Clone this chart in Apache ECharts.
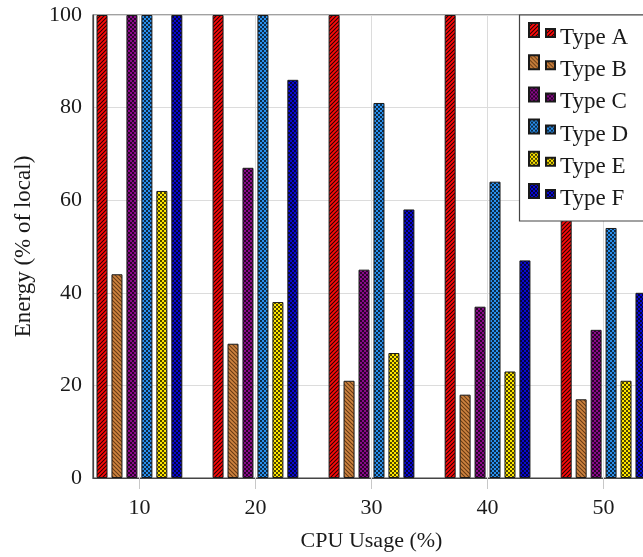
<!DOCTYPE html>
<html>
<head>
<meta charset="utf-8">
<title>Energy vs CPU usage</title>
<script src="https://cdn.jsdelivr.net/npm/echarts@6/dist/echarts.min.js"></script>
<style>
  html, body { margin: 0; padding: 0; overflow: hidden; background: #fff; }
  #chart { width: 720px; height: 557px; }
</style>
</head>
<body>
<div id="chart"></div>
<script>
// CPU usage levels (x positions of the bar groups)
const cpuUsage = [10, 20, 30, 40, 50];

// Energy as % of local execution, one array per type
const typeA = [100, 100, 100, 100, 100];
const typeB = [44, 29, 21, 18, 17];
const typeC = [100, 67, 45, 37, 32];
const typeD = [100, 100, 81, 64, 54];
const typeE = [62, 38, 27, 23, 21];
const typeF = [100, 86, 58, 47, 40];

const seriesNames = ['Type A', 'Type B', 'Type C', 'Type D', 'Type E', 'Type F'];
const seriesValues = [typeA, typeB, typeC, typeD, typeE, typeF];

const yTicks = [0, 20, 40, 60, 80, 100];

const FONT = '"Liberation Serif", "DejaVu Serif", serif';

// Small repeating tiles used as hatch / dot fills
function makePattern(base, kind, ink) {
  const c = document.createElement('canvas');
  c.width = 4; c.height = 4;
  const g = c.getContext('2d');
  g.fillStyle = base;
  g.fillRect(0, 0, 4, 4);
  if (kind === 'ne' || kind === 'nw') {
    g.strokeStyle = ink;
    g.lineWidth = 1.1;
    g.beginPath();
    for (let k = -4; k <= 4; k += 4) {
      if (kind === 'ne') { g.moveTo(k - 1, 5); g.lineTo(k + 5, -1); }
      else { g.moveTo(k - 1, -1); g.lineTo(k + 5, 5); }
    }
    g.stroke();
  } else {
    g.fillStyle = ink;
    g.fillRect(0, 0, 2, 2);
    g.fillRect(2, 2, 2, 2);
  }
  return { image: c, repeat: 'repeat' };
}

const fills = [
  makePattern('#ff0a0a', 'ne', 'rgba(0,0,0,0.85)'),
  makePattern('#cf8440', 'nw', 'rgba(70,35,5,0.75)'),
  makePattern('#8a0a8a', 'dots', 'rgba(0,0,0,0.7)'),
  makePattern('#2a90ee', 'dots', 'rgba(0,0,0,0.7)'),
  makePattern('#ffe600', 'dots', 'rgba(0,0,0,0.7)'),
  makePattern('#0a0ad0', 'dots', 'rgba(0,0,0,0.7)')
];

// Legend glyph: a tall and a short bar side by side, padded below
const legendIcon = 'path://M0,0h10v14h-10z M17,6h9v8h-9z M0,30L0.01,30';

const chart = echarts.init(document.getElementById('chart'), null, { renderer: 'canvas' });

const option = {
  animation: false,
  backgroundColor: '#fff',
  textStyle: { fontFamily: FONT },
  grid: {
    left: 93, top: 15, width: 557, height: 463,
    show: true, borderColor: '#444', borderWidth: 1.2, backgroundColor: 'transparent'
  },
  // legend frame: white box anchored at the top-right corner of the plot
  graphic: [{
    type: 'rect',
    z: 3,
    silent: true,
    shape: { x: 519.5, y: 15, width: 130.5, height: 206 },
    style: { fill: '#fff', stroke: '#444', lineWidth: 1.2 }
  }],
  legend: {
    orient: 'vertical',
    left: 519, top: 15,
    padding: [7, 10, 7, 9],
    backgroundColor: 'transparent',
    borderWidth: 0,
    z: 5,
    icon: legendIcon,
    itemWidth: 26,
    itemHeight: 30,
    itemGap: 0.2,
    textStyle: { fontFamily: FONT, fontSize: 23, color: '#1a1a1a', padding: [0, 0, 0, 0] },
    data: seriesNames
  },
  xAxis: {
    type: 'value',
    min: 6, max: 54,
    name: 'CPU Usage (%)',
    nameLocation: 'middle',
    nameGap: 52,
    nameTextStyle: { fontFamily: FONT, fontSize: 22, color: '#1a1a1a' },
    axisLine: { show: true, lineStyle: { color: '#444', width: 1.2 } },
    axisTick: { show: true, length: 11, customValues: cpuUsage, lineStyle: { color: '#c8c8c8', width: 1 } },
    axisLabel: { customValues: cpuUsage, margin: 19, fontFamily: FONT, fontSize: 22, color: '#1a1a1a' },
    splitLine: { show: true, lineStyle: { color: '#dcdcdc', width: 1 } }
  },
  yAxis: {
    type: 'value',
    min: 0, max: 100, interval: 20,
    name: 'Energy (% of local)',
    nameLocation: 'middle',
    nameGap: 58,
    nameTextStyle: { fontFamily: FONT, fontSize: 23, color: '#1a1a1a' },
    axisLine: { show: true, lineStyle: { color: '#444', width: 1.2 } },
    axisTick: { show: false },
    axisLabel: { margin: 11, fontFamily: FONT, fontSize: 22, color: '#1a1a1a',
      formatter: v => (yTicks.indexOf(v) >= 0 ? String(v) : '') },
    splitLine: { show: true, lineStyle: { color: '#dcdcdc', width: 1 } }
  },
  series: seriesNames.map((name, i) => ({
    name: name,
    type: 'bar',
    barWidth: 11,
    barGap: '36%',
    itemStyle: { color: fills[i], borderColor: '#1a1a1a', borderWidth: 1 },
    data: cpuUsage.map((x, j) => [x, seriesValues[i][j]])
  }))
};

chart.setOption(option);
</script>
</body>
</html>
